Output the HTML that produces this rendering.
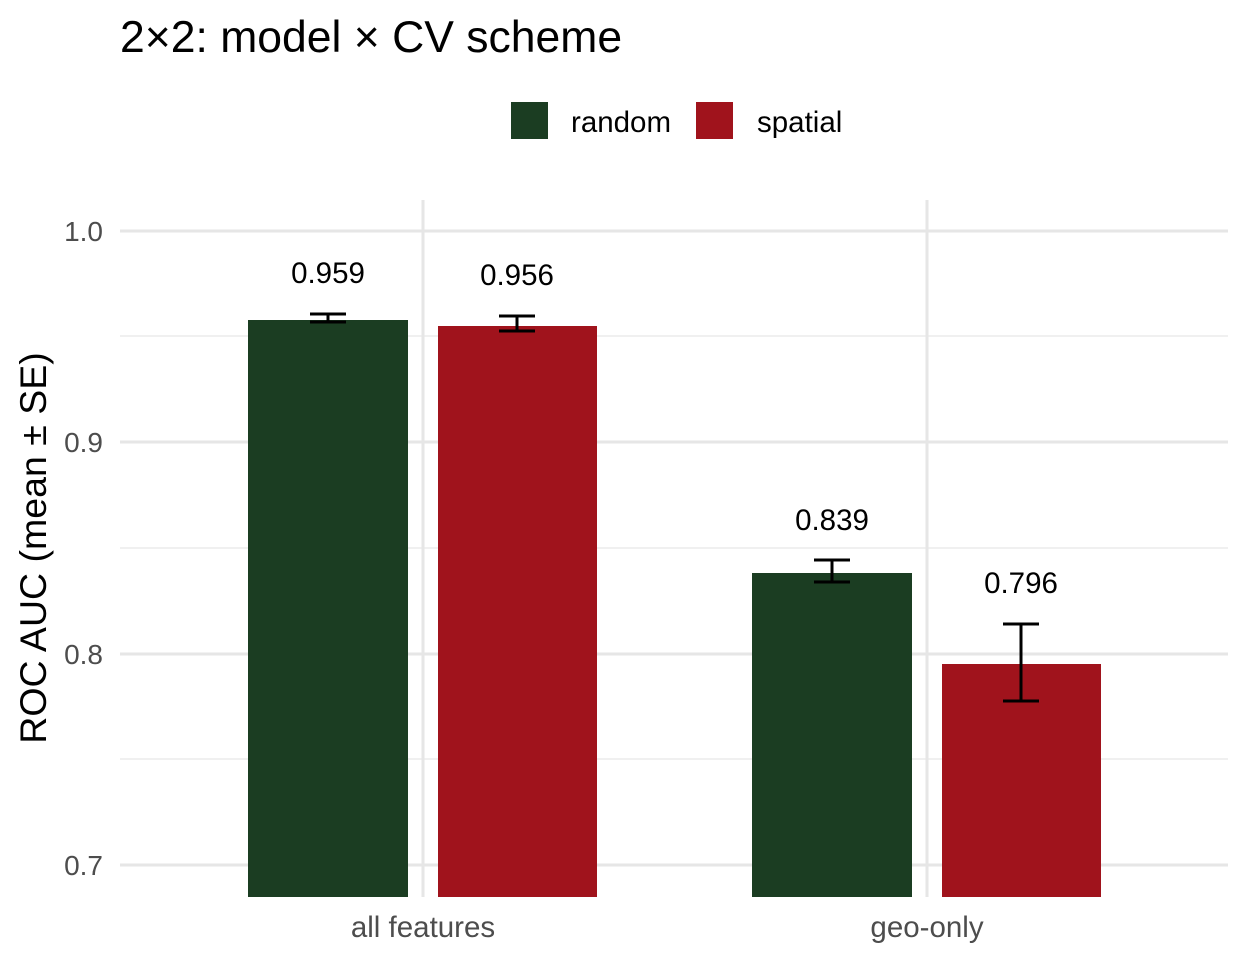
<!DOCTYPE html>
<html><head><style>body{margin:0;background:#fff}svg{display:block}</style></head>
<body>
<svg width="1248" height="960" xmlns="http://www.w3.org/2000/svg" font-family="Liberation Sans, sans-serif">
<rect width="1248" height="960" fill="#fff"/>
<text x="120" y="52" font-size="44.5" fill="#000">2×2: model × CV scheme</text>
<rect x="511" y="102" width="37" height="37" fill="#1b3d22"/>
<text x="571" y="132" font-size="29.5" fill="#000">random</text>
<rect x="696" y="102" width="37" height="37" fill="#a0131c"/>
<text x="757" y="132" font-size="29.5" fill="#000">spatial</text>
<g stroke="#ebebeb" stroke-width="1.5">
<line x1="120" x2="1228" y1="336" y2="336"/><line x1="120" x2="1228" y1="548" y2="548"/><line x1="120" x2="1228" y1="759" y2="759"/>
</g>
<g stroke="#e6e6e6" stroke-width="3">
<line x1="120" x2="1228" y1="231" y2="231"/><line x1="120" x2="1228" y1="442" y2="442"/><line x1="120" x2="1228" y1="654" y2="654"/><line x1="120" x2="1228" y1="865" y2="865"/>
<line x1="423" x2="423" y1="200" y2="897"/><line x1="927" x2="927" y1="200" y2="897"/>
</g>
<rect x="248" y="320" width="160" height="577" fill="#1b3d22"/>
<rect x="438" y="326" width="159" height="571" fill="#a0131c"/>
<rect x="752" y="573" width="160" height="324" fill="#1b3d22"/>
<rect x="942" y="664" width="159" height="233" fill="#a0131c"/>
<g stroke="#000" stroke-width="3" fill="none">
<path d="M310 314H346M328 314V322M310 322H346"/>
<path d="M499 316H535M517 316V331M499 331H535"/>
<path d="M814 560H850M832 560V582M814 582H850"/>
<path d="M1003 624H1039M1021 624V701M1003 701H1039"/>
</g>
<g font-size="29.5" fill="#000" text-anchor="middle">
<text x="328" y="283">0.959</text><text x="517" y="285">0.956</text>
<text x="832" y="530">0.839</text><text x="1021" y="593">0.796</text>
</g>
<g font-size="28" fill="#4d4d4d" text-anchor="end">
<text x="103" y="241">1.0</text><text x="103" y="452">0.9</text><text x="103" y="664">0.8</text><text x="103" y="875">0.7</text>
</g>
<g font-size="29.5" fill="#4d4d4d" text-anchor="middle">
<text x="423" y="937">all features</text><text x="927" y="937">geo-only</text>
</g>
<text transform="translate(46,548) rotate(-90)" font-size="37.5" text-anchor="middle" fill="#000">ROC AUC (mean ± SE)</text>
</svg>
</body></html>
